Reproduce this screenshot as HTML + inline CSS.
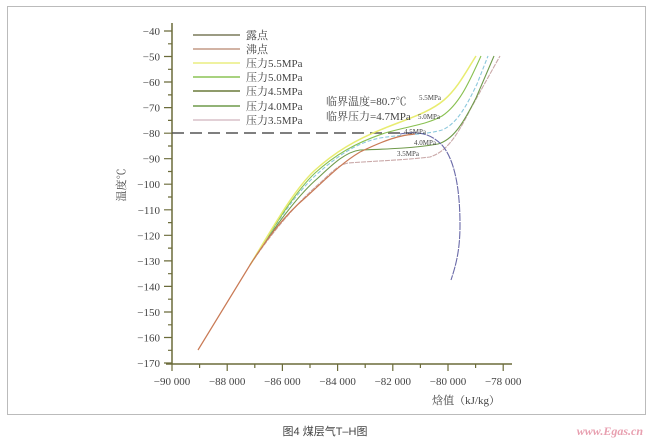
<!DOCTYPE html><html><head><meta charset="utf-8"><style>body{margin:0;background:#fff}svg{display:block}text{font-family:"Liberation Serif","Noto Serif CJK SC",serif;fill:#444}</style></head><body>
<svg width="650" height="440" viewBox="0 0 650 440">
<rect x="7.5" y="6.5" width="638" height="408" fill="#fff" stroke="#bbb"/>
<g stroke="#6b6b3a" stroke-width="1.5">
<line x1="172" y1="23" x2="172" y2="364"/>
<line x1="166" y1="364" x2="512" y2="364"/>
</g>
<g stroke="#6b6b3a" stroke-width="1.2">
<path d="M164 31h8M164 56.5h8M164 82h8M164 107.6h8M164 133.2h8M164 158.7h8M164 184.2h8M164 209.8h8M164 235.3h8M164 260.9h8M164 286.4h8M164 312h8M164 337.5h8M164 363h8"/>
<path d="M168 43.8h4M168 69.3h4M168 94.9h4M168 120.4h4M168 146h4M168 171.5h4M168 197h4M168 222.6h4M168 248.1h4M168 273.7h4M168 299.2h4M168 324.8h4M168 350.3h4"/>
<path d="M172 364v7M227.2 364v7M282.4 364v7M337.6 364v7M392.8 364v7M448 364v7M503.2 364v7"/>
<path d="M199.6 364v4M254.8 364v4M310 364v4M365.2 364v4M420.4 364v4M475.6 364v4"/>
</g>
<g font-size="11" text-anchor="end">
<text x="160" y="35">−40</text><text x="160" y="60.5">−50</text><text x="160" y="86">−60</text><text x="160" y="111.6">−70</text><text x="160" y="137.2">−80</text><text x="160" y="162.7">−90</text><text x="160" y="188.2">−100</text><text x="160" y="213.8">−110</text><text x="160" y="239.3">−120</text><text x="160" y="264.9">−130</text><text x="160" y="290.4">−140</text><text x="160" y="316">−150</text><text x="160" y="341.5">−160</text><text x="160" y="367">−170</text>
</g>
<g font-size="11" text-anchor="middle">
<text x="172" y="385">−90 000</text><text x="227.2" y="385">−88 000</text><text x="282.4" y="385">−86 000</text><text x="337.6" y="385">−84 000</text><text x="392.8" y="385">−82 000</text><text x="448" y="385">−80 000</text><text x="503.2" y="385">−78 000</text>
</g>
<text x="500" y="404" font-size="11" text-anchor="end">焓值（kJ/kg）</text>
<text x="125" y="185" font-size="11" text-anchor="middle" transform="rotate(-90 125 185)">温度℃</text>
<line x1="172" y1="133" x2="412" y2="133" stroke="#555" stroke-width="1.5" stroke-dasharray="12,6"/>
<g fill="none" stroke-width="1.1">
<path d="M250 265 C275 228 300 200 320 183 C332 172 338 165 348 163 C375 161 405 160 430 157 C445 152 455 140 470 110 L500 56" stroke="#c9a8a8" stroke-dasharray="5,1"/>
<path d="M250 265 C275 226 298 195 318 178 C332 165 345 152 360 150 C390 149 415 148 438 144 C452 140 462 126 476 98 L494 56" stroke="#6f9a4a"/>
<path d="M250 265 C275 225 296 193 316 175 C335 158 355 143 380 138 C405 134 425 135 442 130 C457 124 467 105 477 84 L488 56" stroke="#8cc8dc" stroke-dasharray="4,2"/>
<path d="M250 265 C275 225 295 192 315 173 C335 155 355 143 385 133 C410 126 428 124 442 116 C460 104 470 80 481 56" stroke="#88c050"/>
<path d="M250 265 C275 224 294 190 314 171 C335 152 355 140 385 128 C410 118 430 112 444 100 C458 88 467 70 476 56" stroke="#e8ec70" stroke-width="1.5"/>
<path d="M198 350 L250 265 C268 237 285 215 305 198 C325 180 340 164 360 152 C385 140 400 135 415 134" stroke="#c97a55" stroke-width="1.2"/>
<path d="M400 134 C420 130 432 135 442 145 C455 160 460 190 460 225 C460 250 456 265 451 280" stroke="#6a6aa8" stroke-dasharray="8,1"/>
</g>
<g stroke-width="1.5">
<line x1="193" y1="35" x2="240" y2="35" stroke="#7a7a5a"/>
<line x1="193" y1="49" x2="240" y2="49" stroke="#c49a85"/>
<line x1="193" y1="63" x2="240" y2="63" stroke="#eaee80"/>
<line x1="193" y1="77" x2="240" y2="77" stroke="#8cc455"/>
<line x1="193" y1="91" x2="240" y2="91" stroke="#6a7a3a"/>
<line x1="193" y1="106" x2="240" y2="106" stroke="#6f9a4a"/>
<line x1="193" y1="120" x2="240" y2="120" stroke="#d8c0c8"/>
</g>
<g font-size="11">
<text x="246" y="39">露点</text><text x="246" y="53">沸点</text><text x="246" y="67">压力5.5MPa</text><text x="246" y="81">压力5.0MPa</text><text x="246" y="95">压力4.5MPa</text><text x="246" y="110">压力4.0MPa</text><text x="246" y="124">压力3.5MPa</text>
<text x="326" y="105">临界温度=80.7℃</text><text x="326" y="120">临界压力=4.7MPa</text>
</g>
<g font-size="7">
<text x="419" y="100">5.5MPa</text><text x="418" y="119">5.0MPa</text><text x="404" y="134">4.5MPa</text><text x="414" y="145">4.0MPa</text><text x="397" y="156">3.5MPa</text>
</g>
<text x="325" y="435" font-size="11" text-anchor="middle" style="font-family:'Liberation Sans','Noto Sans CJK SC',sans-serif">图4  煤层气T–H图</text>
<text x="643" y="435" font-size="12" font-style="italic" font-weight="bold" text-anchor="end" style="fill:#e8a0b0">www.Egas.cn</text>
</svg></body></html>
